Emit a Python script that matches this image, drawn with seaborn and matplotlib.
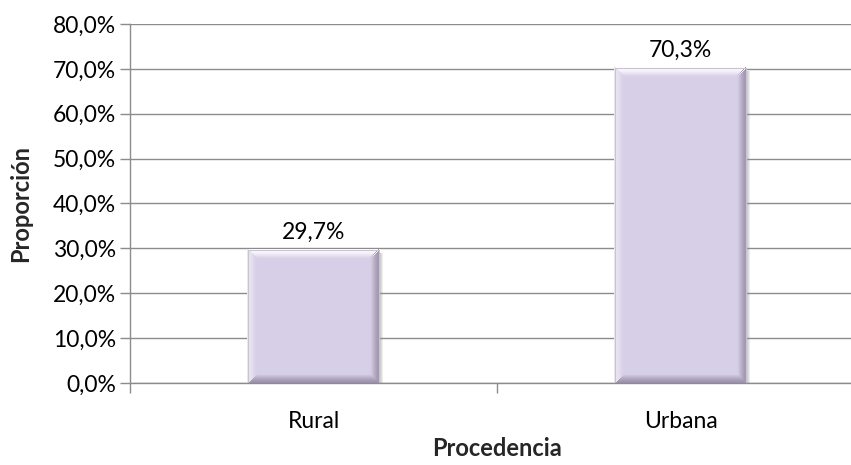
import matplotlib
matplotlib.use("Agg")
import matplotlib.pyplot as plt
import seaborn as sns
import pandas as pd
import numpy as np
from matplotlib.patches import Polygon
from matplotlib.colors import to_rgb
from matplotlib.ticker import FuncFormatter, MultipleLocator

categorias = ["Rural", "Urbana"]
proporcion = [29.7, 70.3]
etiquetas = ["29,7%", "70,3%"]

sns.set_theme(style="white")
plt.rcParams["font.family"] = ["Lato", "DejaVu Sans"]

df = pd.DataFrame({"Procedencia": categorias, "Proporcion": proporcion})

fig = plt.figure(figsize=(8.51, 4.65), dpi=100)
ax = fig.add_axes([130 / 851, 82 / 465, 734 / 851, 359 / 465])

base = "#D7CFE7"
sns.barplot(data=df, x="Procedencia", y="Proporcion", ax=ax, color=base,
            width=0.357, saturation=1, edgecolor="none", zorder=3)

ax.set_xlim(-0.5, 1.5)
ax.set_ylim(0, 80)
ax.yaxis.set_major_locator(MultipleLocator(10))
ax.yaxis.set_major_formatter(FuncFormatter(lambda v, p: f"{v:.1f}%".replace(".", ",")))

ax.grid(axis="y", color="#8C8C8C", linewidth=1.0, zorder=0)
ax.grid(axis="x", visible=False)
for s in ["top", "right"]:
    ax.spines[s].set_visible(False)
for s in ["left", "bottom"]:
    ax.spines[s].set_color("#8C8C8C")
    ax.spines[s].set_linewidth(1.0)
ax.spines["bottom"].set_zorder(5)

fs = 16.5
ax.tick_params(axis="y", which="major", direction="out", length=7, width=1,
               color="#8C8C8C", labelsize=fs, labelcolor="#000000", pad=3, left=True)
ax.set_xticks([0, 1])
ax.set_xticks([-0.5, 0.5, 1.5], minor=True)
ax.tick_params(axis="x", which="major", length=0, labelsize=fs, pad=20, labelcolor="#000000")
ax.tick_params(axis="x", which="minor", direction="out", length=7, width=1,
               color="#8C8C8C", bottom=True)

ax.set_xlabel("Procedencia", fontsize=17, fontweight="bold", labelpad=4)
ax.set_ylabel("Proporción", fontsize=17, fontweight="bold", labelpad=15)


def mix(c1, c2, t):
    a, b = np.array(to_rgb(c1)), np.array(to_rgb(c2))
    return tuple(a + (b - a) * t)


# Bevelled look on each bar
fig.canvas.draw()
to_data = ax.transData.inverted()
ux = abs(to_data.transform((1, 0))[0] - to_data.transform((0, 0))[0])
uy = abs(to_data.transform((0, 1))[1] - to_data.transform((0, 0))[1])
bev = 9
n = 18
edges = {"top": "#FFFFFF", "left": "#ECE7F3", "right": "#9C92AB", "bottom": "#9A8FAA"}
for bar, lab in zip(ax.patches, etiquetas):
    x0, w, h = bar.get_x(), bar.get_width(), bar.get_height()
    x1 = x0 + w
    # soft drop shadow to the right
    for k in range(4):
        ax.add_patch(Polygon([(x1, 0), (x1 + (k + 1) * ux, 0),
                              (x1 + (k + 1) * ux, h - 3 * uy), (x1, h - 3 * uy)],
                             closed=True, facecolor="#9A9A9A", edgecolor="none",
                             alpha=0.18, zorder=2.6))
    for i in range(n):
        t0 = i / n * bev
        t1 = (i + 1) / n * bev
        f = (i + 0.5) / n
        fa = f ** 1.4
        dx0, dx1 = t0 * ux, t1 * ux
        dy0, dy1 = t0 * uy, t1 * uy
        strips = {
            "top": [(x0 + dx0, h - dy0), (x1 - dx0, h - dy0), (x1 - dx1, h - dy1), (x0 + dx1, h - dy1)],
            "bottom": [(x0 + dx0, dy0), (x1 - dx0, dy0), (x1 - dx1, dy1), (x0 + dx1, dy1)],
            "left": [(x0 + dx0, dy0), (x0 + dx0, h - dy0), (x0 + dx1, h - dy1), (x0 + dx1, dy1)],
            "right": [(x1 - dx0, dy0), (x1 - dx0, h - dy0), (x1 - dx1, h - dy1), (x1 - dx1, dy1)],
        }
        for side, pts in strips.items():
            ax.add_patch(Polygon(pts, closed=True, facecolor=mix(edges[side], base, fa),
                                 edgecolor="none", zorder=4, antialiased=False))
    ax.add_patch(Polygon([(x0, 0), (x0, h), (x1, h), (x1, 0)], closed=True,
                         facecolor="none", edgecolor="#C9C3D2", linewidth=0.8, zorder=4.5))
    ax.annotate(lab, (x0 + w / 2, h), xytext=(0, 5), textcoords="offset points",
                ha="center", va="bottom", fontsize=fs, color="#000000", zorder=6)

fig.savefig("out.png", dpi=100)
